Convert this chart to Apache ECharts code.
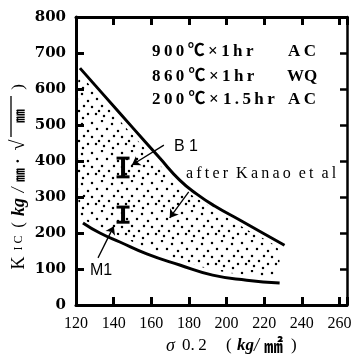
<!DOCTYPE html>
<html>
<head>
<meta charset="utf-8">
<script src="https://cdn.jsdelivr.net/npm/echarts@6/dist/echarts.min.js"></script>
<style>
html, body { margin: 0; padding: 0; background: #fff; }
#chart { width: 356px; height: 362px; }
</style>
</head>
<body>
<div id="chart"></div>
<script>
// axis scales
var xMin = 120, xMax = 264, xStep = 20;
var yMin = 0, yMax = 800, yStep = 100;

// upper curve
var upperX = [122.1, 134.8, 150.2, 164.5, 175.1, 184.2, 193.7, 207.0, 219.2, 230.8];
var upperY = [658, 583, 492, 408, 347, 308, 275, 236, 200, 166];
// lower curve
var lowerX = [123.7, 132.7, 143.3, 157.6, 175.1, 192.6, 210.7, 228.2];
var lowerY = [228, 200, 175, 142, 111, 83, 69, 61];

// stippled scatter band (after Kanao et al), outline
var bandX = [121.6, 132.7, 148.6, 164.5, 175.1, 185.7, 210.7, 227.1, 227.1, 210.7, 192.6, 175.1, 157.6, 143.3, 132.7, 122.1];
var bandY = [639, 575, 481, 389, 328, 292, 210, 158, 83, 83, 97, 125, 158, 192, 217, 247];

// measured ranges B1 / M1
var barNames = ['B1', 'M1'];
var barX = [145, 145];
var barLow = [356, 230];
var barHigh = [408, 272];

// arrows: [from, to]
var arrows = [
    [[166.7, 444], [149.7, 389]],   // B1
    [[179.9, 314], [169.8, 242]],   // after Kanao et al
    [[131.7, 131], [140.1, 219]]    // M1
];

function pairs(xs, ys) {
    return xs.map(function (x, i) { return [x, ys[i]]; });
}

// stipple texture
var dotCanvas = document.createElement('canvas');
dotCanvas.width = 30;
dotCanvas.height = 30;
(function () {
    var ctx = dotCanvas.getContext('2d');
    var dots = [[2, 3], [12, 1], [22, 4], [28, 11], [7, 9], [17, 9], [24, 16], [2, 17],
                [12, 16], [19, 21], [28, 24], [6, 24], [14, 26], [23, 28], [9, 21]];
    ctx.fillStyle = '#000';
    dots.forEach(function (d) {
        ctx.beginPath();
        ctx.arc(d[0], d[1], 1.25, 0, Math.PI * 2);
        ctx.fill();
    });
})();

var myChart = echarts.init(document.getElementById('chart'));

var serif = "'Liberation Serif', 'Noto Sans CJK JP', serif";
var cjk = "'Noto Sans CJK JP', sans-serif";
var ts = '\u2009';

function txt(x, y, text, font, extra) {
    var st = { text: text, font: font, fill: '#000', textVerticalAlign: 'middle' };
    for (var k in extra) st[k] = extra[k];
    return { type: 'text', x: x, y: y, style: st };
}
// rotated piece of the y axis name
function ytxt(y, text, font) {
    return { type: 'text', x: 19, y: y, rotation: Math.PI / 2,
             style: { text: text, font: font, fill: '#000', textAlign: 'center', textVerticalAlign: 'middle' } };
}

var hFont = 'bold 17px ' + serif;

var option = {
    animation: false,
    backgroundColor: '#fff',
    grid: { left: 76, right: 9, top: 17, bottom: 57 },
    xAxis: [
        {
            type: 'value', min: xMin, max: xMax, interval: xStep,
            axisLine: { lineStyle: { color: '#000', width: 3 } },
            axisTick: { inside: true, length: 8, lineStyle: { color: '#000', width: 3 } },
            splitLine: { show: false },
            axisLabel: {
                margin: 11, color: '#000', fontFamily: serif, fontSize: 16,
                formatter: function (v) { return v % xStep === 0 ? v : ''; }
            }
        },
        {
            type: 'value', position: 'top', min: xMin, max: xMax, interval: xStep,
            axisLine: { onZero: false, lineStyle: { color: '#000', width: 3 } },
            axisTick: { inside: true, length: 8, lineStyle: { color: '#000', width: 3 } },
            splitLine: { show: false },
            axisLabel: { show: false }
        }
    ],
    yAxis: [
        {
            type: 'value', min: yMin, max: yMax, interval: yStep,
            axisLine: { show: true, lineStyle: { color: '#000', width: 3 } },
            axisTick: { show: true, inside: true, length: 8, lineStyle: { color: '#000', width: 3 } },
            splitLine: { show: false },
            axisLabel: {
                margin: 10, color: '#000', fontFamily: "'DejaVu Serif', serif",
                fontWeight: 'bold', fontSize: 15
            }
        },
        {
            type: 'value', position: 'right', min: yMin, max: yMax, interval: yStep,
            axisLine: { show: true, onZero: false, lineStyle: { color: '#000', width: 2.5 } },
            axisTick: { show: true, inside: true, length: 7, lineStyle: { color: '#000', width: 2.5 } },
            splitLine: { show: false },
            axisLabel: { show: false }
        }
    ],
    graphic: [
        // heat treatment
        txt(152, 52, '9' + ts + '0' + ts + '0' + ts + '℃' + ts + '×' + ts + '1' + ts + 'h' + ts + 'r', hFont),
        txt(288, 52, 'A' + ts + 'C', hFont),
        txt(152, 77, '8' + ts + '6' + ts + '0 ℃' + ts + '×' + ts + '1' + ts + 'h' + ts + 'r', hFont),
        txt(287, 77, 'WQ', hFont),
        txt(152, 100, '2' + ts + '0' + ts + '0 ℃' + ts + '× 1' + ts + '.' + ts + '5' + ts + 'h' + ts + 'r', hFont),
        txt(288, 100, 'A' + ts + 'C', hFont),
        // labels
        txt(174, 147, 'B 1', '16px "Liberation Sans", sans-serif'),
        txt(90, 271, 'M1', '16px "Liberation Sans", sans-serif'),
        txt(186, 174, 'a' + ts + 'f' + ts + 't' + ts + 'e' + ts + 'r  K' + ts + 'a' + ts + 'n' + ts + 'a' + ts + 'o  e' + ts + 't  a' + ts + 'l', '16px ' + serif),
        // x axis name
        txt(166, 346, 'σ', 'italic 18px ' + serif),
        txt(182, 346, '0.' + ts + '2', '17px ' + serif),
        txt(226, 346, '(', '17px ' + serif),
        txt(237, 346, 'kg', 'italic bold 17px ' + serif),
        txt(254, 346, '/', 'italic 18px ' + serif),
        txt(264, 346, '㎟', 'bold 19px ' + cjk),
        txt(291, 346, ')', '17px ' + serif),
        // y axis name
        ytxt(263, 'K', '18px ' + serif),
        ytxt(243, 'I C', '12px ' + serif),
        ytxt(225, '(', '17px ' + serif),
        ytxt(207, 'kg', 'italic bold 18px ' + serif),
        ytxt(190, '/', 'italic 18px ' + serif),
        ytxt(175, '㎜', 'bold 14px ' + cjk),
        ytxt(161, '·', 'bold 16px ' + serif),
        ytxt(145, '√', '20px ' + serif),
        ytxt(116, '㎜', 'bold 14px ' + cjk),
        { type: 'line', shape: { x1: 11, y1: 96, x2: 11, y2: 137 }, style: { stroke: '#000', lineWidth: 1.3 } },
        ytxt(87, ')', '17px ' + serif)
    ],
    series: [
        {
            type: 'custom',
            coordinateSystem: 'cartesian2d',
            silent: true,
            z: 1,
            data: [[bandX[0], bandY[0]]],
            renderItem: function (params, api) {
                var pts = bandX.map(function (x, i) { return api.coord([x, bandY[i]]); });
                return {
                    type: 'polygon',
                    shape: { points: pts, smooth: 0.2 },
                    style: { fill: { image: dotCanvas, repeat: 'repeat' }, stroke: null }
                };
            }
        },
        {
            type: 'line',
            data: pairs(upperX, upperY),
            smooth: 0.5,
            showSymbol: false,
            lineStyle: { color: '#000', width: 3 },
            z: 3,
            markLine: {
                silent: true,
                symbol: ['none', 'arrow'],
                symbolSize: 8,
                label: { show: false },
                lineStyle: { color: '#000', width: 1.3, type: 'solid' },
                data: arrows.map(function (a) { return [{ coord: a[0] }, { coord: a[1] }]; })
            }
        },
        {
            type: 'line',
            data: pairs(lowerX, lowerY),
            smooth: 0.5,
            showSymbol: false,
            lineStyle: { color: '#000', width: 3 },
            z: 3
        },
        {
            type: 'custom',
            name: 'range',
            coordinateSystem: 'cartesian2d',
            z: 4,
            data: barX.map(function (x, i) { return [x, barLow[i], barHigh[i], barNames[i]]; }),
            renderItem: function (params, api) {
                var top = api.coord([api.value(0), api.value(2)]);
                var bot = api.coord([api.value(0), api.value(1)]);
                var w = 6.5;
                return {
                    type: 'group',
                    children: [
                        { type: 'line', shape: { x1: top[0], y1: top[1], x2: bot[0], y2: bot[1] }, style: { stroke: '#000', lineWidth: 4 } },
                        { type: 'line', shape: { x1: top[0] - w, y1: top[1], x2: top[0] + w, y2: top[1] }, style: { stroke: '#000', lineWidth: 3 } },
                        { type: 'line', shape: { x1: bot[0] - w, y1: bot[1], x2: bot[0] + w, y2: bot[1] }, style: { stroke: '#000', lineWidth: 3 } }
                    ]
                };
            }
        }
    ]
};

myChart.setOption(option);
</script>
</body>
</html>
